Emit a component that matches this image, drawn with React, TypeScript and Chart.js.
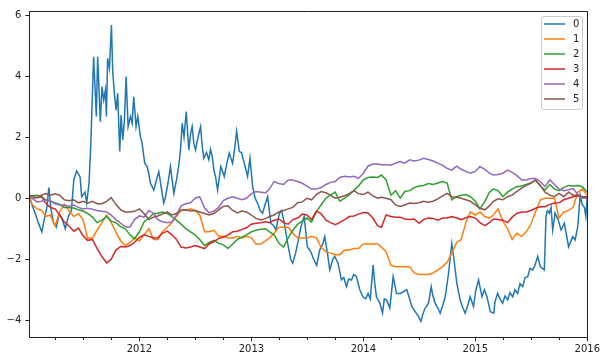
import React, { useEffect, useRef } from 'react';
import { Chart, registerables } from 'chart.js';

Chart.register(...registerables);

// Half-monthly sample dates (series 1-5)
const dates = [
  '2011-01-07','2011-01-16','2011-02-01','2011-02-16','2011-03-01','2011-03-16','2011-04-01','2011-04-16','2011-05-01','2011-05-16','2011-06-01','2011-06-16',
  '2011-07-01','2011-07-16','2011-08-01','2011-08-16','2011-09-01','2011-09-16','2011-10-01','2011-10-16','2011-11-01','2011-11-16','2011-12-01','2011-12-16',
  '2012-01-01','2012-01-16','2012-02-01','2012-02-16','2012-03-01','2012-03-16','2012-04-01','2012-04-16','2012-05-01','2012-05-16','2012-06-01','2012-06-16',
  '2012-07-01','2012-07-16','2012-08-01','2012-08-16','2012-09-01','2012-09-16','2012-10-01','2012-10-16','2012-11-01','2012-11-16','2012-12-01','2012-12-16',
  '2013-01-01','2013-01-16','2013-02-01','2013-02-16','2013-03-01','2013-03-16','2013-04-01','2013-04-16','2013-05-01','2013-05-16','2013-06-01','2013-06-16',
  '2013-07-01','2013-07-16','2013-08-01','2013-08-16','2013-09-01','2013-09-16','2013-10-01','2013-10-16','2013-11-01','2013-11-16','2013-12-01','2013-12-16',
  '2014-01-01','2014-01-16','2014-02-01','2014-02-16','2014-03-01','2014-03-16','2014-04-01','2014-04-16','2014-05-01','2014-05-16','2014-06-01','2014-06-16',
  '2014-07-01','2014-07-16','2014-08-01','2014-08-16','2014-09-01','2014-09-16','2014-10-01','2014-10-16','2014-11-01','2014-11-16','2014-12-01','2014-12-16',
  '2015-01-01','2015-01-16','2015-02-01','2015-02-16','2015-03-01','2015-03-16','2015-04-01','2015-04-16','2015-05-01','2015-05-16','2015-06-01','2015-06-16',
  '2015-07-01','2015-07-16','2015-08-01','2015-08-16','2015-09-01','2015-09-16','2015-10-01','2015-10-16','2015-11-01','2015-11-16','2015-12-01','2015-12-16',
  '2016-01-01',
];

// Series 0 is sampled more densely (decimal years)
const series0Years = [
  2011.019, 2011.043, 2011.070, 2011.097, 2011.128, 2011.150, 2011.173, 2011.191, 2011.208, 2011.231,
  2011.258, 2011.284, 2011.311, 2011.338, 2011.365, 2011.392, 2011.414, 2011.439, 2011.470, 2011.484,
  2011.514, 2011.529, 2011.550, 2011.566, 2011.591, 2011.615, 2011.627, 2011.651, 2011.666, 2011.681,
  2011.696, 2011.705, 2011.716, 2011.732, 2011.750, 2011.761, 2011.776, 2011.792, 2011.806, 2011.818,
  2011.824, 2011.836, 2011.851, 2011.866, 2011.881, 2011.899, 2011.920, 2011.935, 2011.949, 2011.970,
  2011.985, 2012.009, 2012.024, 2012.047, 2012.069, 2012.083, 2012.098, 2012.128, 2012.152, 2012.173,
  2012.197, 2012.217, 2012.233, 2012.255, 2012.277, 2012.307, 2012.331, 2012.352, 2012.367, 2012.382,
  2012.398, 2012.418, 2012.441, 2012.456, 2012.471, 2012.486, 2012.501, 2012.523, 2012.546, 2012.561,
  2012.575, 2012.599, 2012.620, 2012.635, 2012.650, 2012.666, 2012.680, 2012.698, 2012.727, 2012.758,
  2012.778, 2012.802, 2012.832, 2012.850, 2012.868, 2012.892, 2012.912, 2012.936, 2012.966, 2012.987,
  2013.011, 2013.033, 2013.055, 2013.078, 2013.100, 2013.123, 2013.145, 2013.174, 2013.199, 2013.219,
  2013.250, 2013.270, 2013.294, 2013.324, 2013.351, 2013.369, 2013.395, 2013.413, 2013.443, 2013.471,
  2013.500, 2013.530, 2013.556, 2013.583, 2013.610, 2013.637, 2013.655, 2013.679, 2013.700, 2013.727,
  2013.744, 2013.774, 2013.804, 2013.825, 2013.849, 2013.869, 2013.894, 2013.914, 2013.938, 2013.968,
  2013.997, 2014.021, 2014.042, 2014.062, 2014.087, 2014.102, 2014.117, 2014.147, 2014.171, 2014.187,
  2014.207, 2014.236, 2014.266, 2014.296, 2014.332, 2014.388, 2014.433, 2014.460, 2014.493, 2014.514,
  2014.531, 2014.552, 2014.582, 2014.606, 2014.621, 2014.641, 2014.665, 2014.686, 2014.710, 2014.731,
  2014.761, 2014.790, 2014.806, 2014.835, 2014.864, 2014.889, 2014.909, 2014.933, 2014.954, 2014.984,
  2015.005, 2015.029, 2015.059, 2015.081, 2015.104, 2015.134, 2015.165, 2015.175, 2015.199, 2015.220,
  2015.244, 2015.265, 2015.289, 2015.309, 2015.334, 2015.354, 2015.378, 2015.399, 2015.423, 2015.444,
  2015.468, 2015.488, 2015.512, 2015.533, 2015.557, 2015.580, 2015.616, 2015.631, 2015.644, 2015.661,
  2015.676, 2015.691, 2015.712, 2015.739, 2015.766, 2015.795, 2015.833, 2015.870, 2015.891, 2015.915,
  2015.936, 2015.953, 2015.974, 2015.987, 2016.000,
];

const series0 = [
  0.05, -0.25, -0.5, -0.8, -1.1, -0.7, -0.3, 0.35, -0.3, -0.8,
  -0.95, -0.5, -0.7, -1.0, -0.6, -0.4, 0.6, 0.9, 0.7, 0.05,
  0.2, -0.16, 0.5, 1.8, 4.64, 2.68, 4.64, 2.51, 3.66, 3.22,
  3.55, 2.68, 4.59, 4.26, 5.68, 4.2, 3.44, 2.89, 3.44, 2.13,
  1.53, 2.73, 1.91, 2.57, 3.99, 2.35, 2.68, 2.46, 3.33, 2.35,
  2.68, 2.02, 1.8, 1.15, 1.04, 0.82, 0.5, 0.27, 0.6, 0.87,
  0.3, -0.16, 0.05, 0.5, 1.04, 0.16, 0.6, 1.09, 1.6, 2.46,
  2.0, 2.84, 1.58, 2.1, 2.35, 1.8, 1.58, 2.0, 2.35, 1.7,
  1.31, 1.5, 1.26, 1.6, 1.37, 0.9, 0.71, 0.27, 1.04, 0.71,
  1.1, 1.48, 1.15, 1.6, 2.19, 1.53, 1.5, 1.15, 0.71, 1.31,
  0.38, 0.0, -0.16, -0.4, -0.49, -0.2, 0.05, -0.82, -0.9, -1.04,
  -0.49, -0.4, -0.82, -1.48, -2.0, -2.13, -1.8, -1.48, -0.93, -0.6,
  -1.6, -1.75, -2.0, -2.2, -1.7, -1.5, -1.26, -1.8, -2.35, -2.0,
  -1.9, -2.13, -2.68, -2.6, -2.9, -2.65, -2.68, -2.5, -2.57, -3.0,
  -3.23, -3.3, -3.12, -3.3, -2.19, -2.8, -3.23, -3.44, -3.77, -3.3,
  -3.33, -3.6, -2.57, -3.12, -3.12, -3.0, -3.55, -3.7, -3.88, -4.04,
  -3.8, -3.6, -3.44, -2.9, -3.2, -3.44, -3.6, -3.77, -3.5, -3.23,
  -2.46, -1.48, -1.91, -2.79, -3.33, -3.6, -3.77, -3.5, -3.23, -3.55,
  -3.0, -2.68, -3.23, -3.0, -3.23, -3.72, -3.77, -3.4, -3.12, -3.3,
  -3.44, -3.2, -3.33, -3.1, -3.23, -3.0, -3.12, -2.8, -2.9, -2.6,
  -2.57, -2.3, -2.35, -2.2, -1.91, -2.24, -2.35, -0.6, -0.4, -0.49,
  -0.3, -1.04, -0.49, -0.7, -1.04, -0.82, -1.59, -1.26, -1.37, -0.93,
  0.1, -0.2, -0.3, -0.6, 0.05,
];

const series1 = [
  0.05, -0.2, -0.35, -0.4, -0.6, -0.55, -0.9, -0.45, -0.2, -0.4,
  -0.6, -0.5, -0.7, -1.3, -1.3, -1.05, -0.8, -0.55, -0.8, -1.1,
  -1.4, -1.55, -1.45, -1.3, -1.4, -1.2, -1.0, -1.35, -1.35, -1.1,
  -0.95, -0.8, -0.6, -0.38, -0.4, -0.35, -0.4, -0.55, -1.1, -1.1,
  -1.05, -1.25, -1.25, -1.3, -1.3, -1.25, -1.3, -1.25, -1.3, -1.5,
  -1.5, -1.4, -1.3, -1.15, -0.95, -0.95, -0.95, -1.15, -1.3, -1.3,
  -1.3, -1.25, -1.3, -1.6, -1.75, -1.8, -1.85, -1.85, -1.7, -1.7,
  -1.65, -1.65, -1.5, -1.5, -1.5, -1.5, -1.6, -1.75, -2.2, -2.25,
  -2.25, -2.25, -2.25, -2.45, -2.5, -2.5, -2.5, -2.45, -2.35, -2.25,
  -2.1, -1.8, -1.45, -1.35, -0.8, -0.45, -0.55, -0.45, -0.6, -0.65,
  -0.55, -0.35, -0.75, -1.0, -1.35, -1.15, -1.25, -1.1, -0.85, -0.45,
  -0.05, 0.0, 0.0, 0.0, -0.65, -0.45, -0.4, -0.3, 0.2, 0.3, 0.1,
];

const series2 = [
  0.05, 0.08, 0.1, 0.05, -0.05, -0.1, -0.15, -0.2, -0.3, -0.3,
  -0.32, -0.38, -0.42, -0.5, -0.62, -0.8, -0.72, -0.6, -0.75, -0.8,
  -0.93, -1.0, -1.2, -1.33, -1.1, -0.78, -0.65, -0.5, -0.5, -0.45,
  -0.5, -0.6, -0.72, -0.85, -1.0, -1.1, -1.2, -1.35, -1.55, -1.45,
  -1.38, -1.48, -1.52, -1.65, -1.5, -1.35, -1.28, -1.2, -1.1, -1.05,
  -1.02, -1.0, -1.1, -1.2, -1.48, -1.6, -1.3, -1.05, -0.85, -0.75,
  -0.65, -0.78, -0.45, -0.22, 0.0, 0.1, 0.2, -0.1, 0.0, 0.12,
  0.25, 0.4, 0.6, 0.68, 0.7, 0.68, 0.76, 0.6, 0.1, 0.25,
  0.0, 0.22, 0.25, 0.35, 0.4, 0.42, 0.48, 0.45, 0.5, 0.55,
  0.5, -0.05, 0.05, 0.1, 0.12, 0.05, -0.1, -0.35, -0.1, 0.2,
  0.3, 0.25, 0.05, 0.2, 0.3, 0.38, 0.4, 0.45, 0.5, 0.6,
  0.4, 0.27, 0.45, 0.3, 0.25, 0.35, 0.42, 0.4, 0.42, 0.38, 0.2,
];

const series3 = [
  0.0, 0.0, 0.02, 0.05, -0.15, -0.3, -0.35, -0.55, -0.78, -0.9,
  -1.08, -0.98, -1.22, -1.38, -1.35, -1.65, -1.92, -2.12, -2.0, -1.7,
  -1.58, -1.6, -1.55, -1.45, -1.28, -1.2, -1.25, -1.3, -1.3, -1.15,
  -1.08, -1.2, -1.35, -1.6, -1.63, -1.6, -1.55, -1.6, -1.65, -1.5,
  -1.42, -1.32, -1.28, -1.2, -1.1, -1.08, -1.02, -0.97, -0.85, -0.82,
  -0.8, -0.77, -0.8, -0.72, -0.68, -0.8, -0.85, -0.7, -0.65, -0.52,
  -0.55, -0.7, -0.42, -0.5, -0.72, -0.8, -0.87, -0.8, -0.7, -0.6,
  -0.58, -0.52, -0.47, -0.48, -0.65, -0.9, -0.95, -0.55, -0.6, -0.62,
  -0.62, -0.68, -0.7, -0.68, -0.82, -0.7, -0.65, -0.66, -0.72, -0.65,
  -0.65, -0.6, -0.65, -0.7, -0.64, -0.6, -0.65, -0.8, -0.9, -0.8,
  -0.68, -0.7, -0.72, -0.8, -0.62, -0.5, -0.45, -0.45, -0.4, -0.33,
  -0.28, -0.28, -0.2, -0.16, -0.15, -0.05, 0.0, 0.05, 0.08, 0.05, 0.05,
];

const series4 = [
  0.0, 0.0, -0.12, -0.1, -0.05, -0.08, -0.18, -0.22, -0.22, -0.27,
  -0.22, -0.3, -0.35, -0.33, -0.36, -0.4, -0.43, -0.45, -0.55, -0.7,
  -0.82, -0.93, -0.95, -0.7, -0.58, -0.62, -0.4, -0.5, -0.7, -0.77,
  -0.8, -0.78, -0.55, -0.25, -0.18, -0.15, 0.0, 0.05, -0.32, -0.48,
  -0.42, -0.3, -0.08, 0.0, 0.05, 0.0, -0.05, 0.0, 0.15, 0.22,
  0.2, 0.18, 0.3, 0.55, 0.48, 0.45, 0.6, 0.6, 0.55, 0.49,
  0.4, 0.3, 0.3, 0.35, 0.45, 0.52, 0.55, 0.68, 0.72, 0.7,
  0.72, 0.65, 0.82, 1.05, 1.12, 1.12, 1.1, 1.1, 1.08, 1.15,
  1.2, 1.15, 1.26, 1.22, 1.25, 1.31, 1.27, 1.22, 1.15, 1.08,
  0.98, 0.92, 1.05, 0.95, 0.88, 0.82, 0.88, 1.04, 0.95, 0.82,
  0.76, 0.78, 0.82, 0.92, 0.85, 0.75, 0.6, 0.6, 0.65, 0.65,
  0.55, 0.38, 0.6, 0.45, 0.3, 0.25, 0.28, 0.32, 0.12, 0.0, 0.02,
];

const series5 = [
  0.1, 0.07, 0.02, 0.1, 0.15, 0.1, 0.15, 0.1, -0.05, -0.08,
  -0.05, -0.15, -0.1, -0.16, -0.1, -0.18, -0.18, -0.1, 0.02, -0.2,
  -0.38, -0.45, -0.45, -0.43, -0.35, -0.5, -0.7, -0.62, -0.58, -0.52,
  -0.45, -0.55, -0.5, -0.4, -0.38, -0.42, -0.4, -0.45, -0.5, -0.55,
  -0.5, -0.38, -0.27, -0.25, -0.4, -0.48, -0.42, -0.45, -0.55, -0.66,
  -0.71, -0.67, -0.6, -0.55, -0.45, -0.4, -0.35, -0.3, -0.15, -0.12,
  0.0, -0.05, 0.12, 0.22, 0.18, 0.1, 0.0, 0.03, 0.08, 0.15,
  0.25, 0.15, 0.12, 0.2, 0.08, 0.0, 0.03, 0.0, -0.05, -0.22,
  -0.27, -0.22, -0.16, -0.17, -0.15, -0.1, -0.13, -0.1, -0.02, 0.08,
  0.16, 0.05, 0.03, 0.0, -0.05, -0.1, -0.22, -0.33, -0.38, -0.25,
  -0.1, -0.02, -0.05, 0.05, 0.1, 0.22, 0.33, 0.42, 0.49, 0.6,
  0.42, 0.2, 0.1, 0.05, 0.16, 0.05, 0.2, 0.1, 0.1, 0.05, 0.0,
];

const seriesLabels = ['0', '1', '2', '3', '4', '5'];
const seriesColors = ['#1f77b4', '#ff7f0e', '#2ca02c', '#d62728', '#9467bd', '#8c564b'];
const yTickValues = [-4, -2, 0, 2, 4, 6];
const xTickYears = [2012, 2013, 2014, 2015, 2016];
const minorTickDates = [
  '2011-04-01', '2011-07-01', '2011-10-01',
  '2012-04-01', '2012-07-01', '2012-10-01',
  '2013-04-01', '2013-07-01', '2013-10-01',
  '2014-04-01', '2014-07-01', '2014-10-01',
  '2015-04-01', '2015-07-01', '2015-10-01',
];

const FONT = '"DejaVu Sans", sans-serif';
const INK = '#222222';

function toYear(s: string): number {
  const [y, m, d] = s.split('-').map(Number);
  const t = Date.UTC(y, m - 1, d);
  const a = Date.UTC(y, 0, 1);
  const b = Date.UTC(y + 1, 0, 1);
  return y + (t - a) / (b - a);
}

const gridYears = dates.map(toYear);
const seriesPoints = [
  series0Years.map((x, j) => ({ x, y: series0[j] })),
  ...[series1, series2, series3, series4, series5].map((vals) =>
    gridYears.map((x, j) => ({ x, y: vals[j] }))
  ),
];

const decorPlugin = {
  id: 'decor',
  afterDraw(chart: any) {
    const { ctx, chartArea: a } = chart;
    const xs = chart.scales.x;
    const L = Math.round(a.left) + 0.5;
    const R = Math.round(a.right) + 0.5;
    const T = Math.round(a.top) + 0.5;
    const B = Math.round(a.bottom) + 0.5;
    ctx.save();
    ctx.strokeStyle = INK;
    ctx.lineWidth = 1;
    minorTickDates.forEach((d) => {
      const px = Math.round(xs.getPixelForValue(toYear(d))) + 0.5;
      ctx.beginPath();
      ctx.moveTo(px, B);
      ctx.lineTo(px, B + 2.5);
      ctx.stroke();
    });
    ctx.beginPath();
    ctx.rect(L, T, R - L, B - T);
    ctx.stroke();

    // legend
    const bw = 41;
    const bh = 93;
    const bx = Math.round(a.right - 5.3 - bw) + 0.5;
    const by = Math.round(a.top + 4.7) + 0.5;
    const r = 2.5;
    ctx.beginPath();
    ctx.moveTo(bx + r, by);
    ctx.lineTo(bx + bw - r, by);
    ctx.arcTo(bx + bw, by, bx + bw, by + r, r);
    ctx.lineTo(bx + bw, by + bh - r);
    ctx.arcTo(bx + bw, by + bh, bx + bw - r, by + bh, r);
    ctx.lineTo(bx + r, by + bh);
    ctx.arcTo(bx, by + bh, bx, by + bh - r, r);
    ctx.lineTo(bx, by + r);
    ctx.arcTo(bx, by, bx + r, by, r);
    ctx.closePath();
    ctx.fillStyle = 'rgba(255,255,255,0.8)';
    ctx.fill();
    ctx.strokeStyle = '#cccccc';
    ctx.stroke();

    ctx.font = `10px ${FONT}`;
    ctx.textBaseline = 'middle';
    ctx.textAlign = 'left';
    chart.data.datasets.forEach((ds: any, k: number) => {
      const ry = by + 7.5 + 15 * k;
      ctx.strokeStyle = ds.borderColor;
      ctx.lineWidth = 1.5;
      ctx.beginPath();
      ctx.moveTo(bx + 2.5, ry);
      ctx.lineTo(bx + 23.5, ry);
      ctx.stroke();
      ctx.fillStyle = INK;
      ctx.fillText(ds.label, bx + 31.5, ry + 0.6);
    });
    ctx.restore();
  },
};

export default function App() {
  const canvasRef = useRef<HTMLCanvasElement | null>(null);

  useEffect(() => {
    const canvas = canvasRef.current;
    if (!canvas) return;
    const xMin = gridYears[0];
    const xMax = gridYears[gridYears.length - 1];
    const chart = new Chart(canvas, {
      type: 'line',
      data: {
        datasets: seriesPoints.map((pts, i) => ({
          label: seriesLabels[i],
          data: pts,
          borderColor: seriesColors[i],
          backgroundColor: seriesColors[i],
          borderWidth: 1.5,
          pointRadius: 0,
          tension: 0,
          fill: false,
          order: 5 - i,
        })),
      },
      options: {
        responsive: false,
        animation: false,
        events: [],
        layout: { padding: { top: 11.3, right: 17.7, left: 0, bottom: 0 } },
        plugins: {
          legend: { display: false },
          tooltip: { enabled: false },
          title: { display: false },
        },
        scales: {
          x: {
            type: 'linear',
            min: xMin,
            max: xMax,
            afterBuildTicks: (s: any) => {
              s.ticks = xTickYears.map((v) => ({ value: v }));
            },
            afterFit: (s: any) => {
              s.height = 23.7;
            },
            ticks: {
              autoSkip: false,
              maxRotation: 0,
              padding: 2,
              color: INK,
              font: { family: FONT, size: 10 },
              callback: (v: any) => String(v),
            },
            grid: { drawOnChartArea: false, drawTicks: true, tickLength: 4, color: INK, lineWidth: 1 },
            border: { display: false },
          },
          y: {
            type: 'linear',
            min: -4.56,
            max: 6.13,
            afterBuildTicks: (s: any) => {
              s.ticks = yTickValues.map((v) => ({ value: v }));
            },
            afterFit: (s: any) => {
              s.width = 29.3;
            },
            ticks: {
              padding: 4,
              color: INK,
              font: { family: FONT, size: 10 },
              callback: (v: any) => (v < 0 ? '\u2212' + Math.abs(v) : String(v)),
            },
            grid: { drawOnChartArea: false, drawTicks: true, tickLength: 4, color: INK, lineWidth: 1 },
            border: { display: false },
          },
        },
      },
      plugins: [decorPlugin],
    });
    return () => chart.destroy();
  }, []);

  return (
    <div style={{ position: 'absolute', left: 0, top: 0, width: 605, height: 361, background: '#fff' }}>
      <canvas ref={canvasRef} width={605} height={361} style={{ width: 605, height: 361, display: 'block' }} />
    </div>
  );
}
